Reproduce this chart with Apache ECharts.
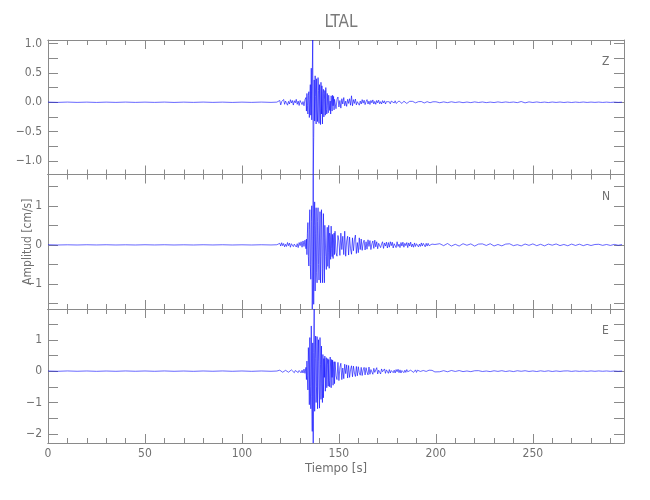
<!DOCTYPE html>
<html><head><meta charset="utf-8">
<script src="https://cdn.jsdelivr.net/npm/echarts@6/dist/echarts.min.js"></script>
<style>html,body{margin:0;padding:0;background:#fff}#c{width:650px;height:500px}</style>
</head><body><div id="c"></div>
<script>
// ---- time layout of the sampled values (seconds) ----
const T_MAX = 297;
const PRE_STEP = 5;                          // quiet part: t = 0,5,...,115
const ONSET_START = 118, ONSET_STEP = 0.5;   // 118 .. 132.5
const BURST_START = 133, BURST_STEP = 0.25;  // 133 .. 147.75
const CODA_START = 148, CODA_STEP = 0.5;     // 148 .. 199.5
const TAIL_START = 200, TAIL_STEP = 2;       // 200 .. 296

const xTicks = [0, 50, 100, 150, 200, 250];
const panelNames = ['Z', 'N', 'E'];

// ---- Z component ----
const zPre = [0.002,-0.002,0.003,-0.002,0.002,-0.003,0.002,-0.002,0.003,-0.002,0.002,-0.002,0.003,-0.003,0.002,-0.002,0.003,-0.002,0.002,-0.003,0.002,-0.002,0.003,-0.002];
const zOnset = [
 0.002,-0.003,0.004,0.03,-0.045,0.012,-0.02,0.048,-0.035,0.02,
 0.038,-0.05,0.015,-0.03,0.044,-0.012,0.03,-0.048,0.026,-0.01,
 0.05,-0.035,0.02,-0.055,0.03,0.058,-0.04,0.012,-0.06,0.045];
const zBurst = [
 0.08,-0.15,0.15,-0.05,-0.2,0.12,0.18,-0.26,0.05,0.3,-0.22,0.58,
 -0.3,0.45,1.06,-1.23,-0.6,0.38,-0.32,0.45,0.1,-0.37,0.4,-0.15,
 -0.33,0.42,0.2,-0.36,0.3,-0.1,-0.38,0.34,-0.2,0.28,-0.37,0.15,
 0.22,-0.25,0.05,0.2,-0.22,0.25,-0.12,-0.2,0.15,-0.05,-0.18,0.12,
 0.15,-0.14,0.02,-0.2,0.11,0.08,-0.15,0.12,-0.06,0.1,-0.13,0.05];
const zCoda = [
 0.07,-0.11,0.05,0.09,-0.08,0.03,-0.1,0.06,-0.03,0.08,
 -0.06,0.02,-0.07,0.05,-0.02,0.06,-0.05,0.11,-0.06,0.045,
 -0.02,0.055,-0.045,0.01,0.04,-0.05,0.02,-0.03,0.045,-0.015,
 0.035,-0.04,0.01,0.045,-0.03,0.02,-0.038,0.03,-0.01,0.04,
 -0.03,0.015,-0.035,0.03,-0.01,0.035,-0.025,0.01,-0.03,0.028,
 -0.012,0.025,-0.03,0.01,0.028,-0.022,0.008,-0.027,0.02,-0.01,
 0.02,-0.012,0.025,-0.02,0.006,-0.018,0.022,-0.01,0.015,-0.02,
 0.01,0.018,-0.015,0.005,-0.02,0.014,-0.008,0.016,-0.012,0.004,
 0.015,-0.014,0.008,-0.01,0.016,-0.006,0.01,-0.014,0.004,0.012,
 -0.01,0.008,-0.012,0.01,-0.004,0.01,-0.01,0.006,-0.008,0.01,
 -0.006,0.008,-0.01,0.004];
const zTail = [
 0.008,-0.008,0.006,-0.006,0.008,-0.004,0.006,-0.007,0.004,-0.006,
 0.006,-0.004,0.005,-0.006,0.003,-0.005,0.006,-0.004,0.005,-0.003,
 0.004,-0.006,0.012,-0.01,0.006,-0.004,0.005,-0.004,0.003,-0.005,
 0.004,-0.003,0.004,-0.004,0.003,-0.004,0.003,-0.003,0.004,-0.003,
 0.003,-0.002,0.003,-0.003,0.002,-0.003,0.002,-0.002,0.002];

// ---- N component ----
const nPre = [0.003,-0.003,0.002,-0.003,0.003,-0.002,0.003,-0.003,0.002,-0.003,0.003,-0.002,0.003,-0.003,0.002,-0.003,0.003,-0.002,0.003,-0.003,0.002,-0.003,0.003,-0.002];
const nOnset = [
 0.003,-0.004,0.002,0.04,-0.03,0.055,-0.02,0.035,-0.05,0.015,
 -0.04,0.06,-0.02,0.045,-0.06,0.03,0.05,-0.045,0.02,0.065,
 -0.055,0.03,-0.07,0.06,-0.02,0.08,-0.06,0.1,-0.04,0.12];
const nBurst = [
 -0.1,0.15,-0.25,0.3,0.57,-0.3,-0.54,0.4,0.9,-0.5,-0.88,0.6,
 1.0,-1.64,-0.9,1.80,-1.52,0.5,1.1,-1.18,0.3,0.95,-0.7,-0.97,
 0.6,0.95,-0.5,-0.9,0.2,0.85,-0.97,-0.3,0.9,0.4,-0.97,-0.6,
 0.8,0.2,-0.97,0.5,0.52,-0.3,-0.63,0.1,0.45,-0.55,-0.2,0.5,
 -0.6,0.3,0.2,-0.37,0.48,-0.1,-0.3,0.27,-0.35,0.15,0.3,-0.25];
const nCoda = [
 0.35,-0.2,-0.29,0.24,0.1,-0.27,0.3,-0.12,0.22,-0.25,
 0.35,-0.29,0.1,0.22,-0.26,0.2,-0.1,-0.24,0.18,-0.15,
 0.13,0.25,-0.22,0.06,-0.2,0.18,-0.12,0.15,-0.14,0.05,
 0.12,-0.13,0.08,-0.11,0.13,-0.04,0.11,-0.12,0.03,0.1,
 -0.09,0.12,-0.05,0.08,-0.1,0.04,0.09,-0.07,0.02,0.08,
 -0.09,0.05,-0.03,0.07,-0.08,0.06,-0.06,0.08,-0.02,0.07,
 -0.08,0.03,0.06,-0.07,0.08,-0.04,0.02,-0.07,0.06,-0.03,
 0.07,-0.06,0.04,-0.02,0.06,-0.07,0.05,-0.03,0.07,-0.05,
 0.02,-0.06,0.05,-0.04,0.03,0.05,-0.05,0.02,-0.04,0.05,
 -0.03,0.04,0.01,-0.05,0.04,-0.03,0.04,-0.02,0.03,-0.04,
 0.02,0.035,-0.03,0.01];
const nTail = [
 -0.04,0.03,-0.02,0.035,-0.03,0.015,-0.03,0.03,-0.01,0.025,
 -0.03,0.02,0.025,-0.015,0.03,-0.028,0.01,-0.025,0.02,0.028,
 -0.02,0.005,-0.026,0.022,-0.012,0.025,-0.02,0.015,-0.025,0.02,
 -0.008,0.024,-0.018,0.01,-0.022,0.02,-0.015,0.018,-0.02,0.012,
 -0.016,0.01,0.015,-0.012,0.01,-0.014,0.012,-0.01,0.008];

// ---- E component ----
const ePre = [0.004,-0.005,0.006,-0.004,0.005,-0.006,0.004,-0.005,0.006,-0.004,0.005,-0.005,0.006,-0.005,0.004,-0.006,0.005,-0.004,0.006,-0.005,0.005,-0.006,0.005,-0.005];
const eOnset = [
 0.003,-0.004,0.002,0.03,-0.02,0.04,-0.035,0.01,-0.04,0.025,
 -0.015,0.045,-0.035,0.02,-0.045,0.04,-0.01,0.045,-0.05,0.02,
 -0.03,0.055,-0.045,0.02,0.06,-0.055,0.03,-0.06,0.065,-0.07];
const eBurst = [
 0.12,-0.27,0.32,-0.15,-0.6,0.75,0.2,-1.07,1.07,-0.5,-1.2,1.44,
 -0.8,-1.92,0.9,-2.29,0.6,1.98,-1.28,0.4,1.12,-1.0,-0.5,1.1,
 -1.2,0.3,1.0,-0.6,-1.18,1.07,0.2,-0.9,0.8,-0.4,-1.0,0.53,
 -0.85,0.4,-0.2,0.48,-0.64,0.1,0.43,-0.53,0.2,0.4,-0.48,0.37,
 -0.3,-0.5,0.45,0.1,-0.53,0.37,-0.2,0.35,-0.45,0.1,0.3,-0.4];
const eCoda = [
 0.3,-0.15,-0.27,0.28,-0.3,0.12,0.25,-0.27,0.1,-0.24,
 0.22,-0.08,0.2,-0.22,0.18,-0.2,0.05,0.17,-0.18,0.16,
 -0.06,-0.17,0.15,-0.15,0.14,-0.05,-0.13,0.12,-0.14,0.04,
 0.12,-0.12,0.11,-0.03,-0.12,0.13,-0.1,0.05,0.11,-0.1,
 0.09,-0.04,-0.1,0.11,-0.09,0.03,0.08,-0.09,0.07,-0.02,
 -0.08,0.07,-0.07,0.04,0.06,-0.07,0.05,-0.06,0.02,0.07,
 -0.05,0.03,-0.06,0.05,-0.02,0.06,-0.05,0.04,-0.06,0.02,
 0.05,-0.05,0.03,-0.04,0.05,-0.02,0.04,-0.05,0.03,-0.03,
 0.04,-0.04,0.01,0.04,-0.04,0.03,-0.03,0.035,-0.01,0.03,
 -0.035,0.02,-0.03,0.03,-0.01,0.03,-0.025,0.03,-0.02,0.01,
 0.025,-0.03,0.02,-0.025];
const eTail = [
 0.02,-0.02,0.015,-0.02,0.02,-0.01,0.018,-0.015,0.005,-0.016,
 0.012,0.015,-0.012,0.004,-0.015,0.012,-0.008,0.014,-0.012,0.008,
 -0.014,0.012,-0.005,0.013,-0.01,0.006,-0.012,0.01,-0.008,0.01,
 -0.011,0.006,-0.009,0.005,0.008,-0.008,0.006,-0.007,0.005,-0.006,
 0.007,-0.005,0.006,-0.004,0.005,-0.006,0.004,-0.005,0.004];

// ---- axis ranges and tick steps ----
const yMin = [-1.23, -1.64, -2.29];
const yMax = [1.06, 1.80, 1.98];
const yTickStep = [0.25, 0.5, 0.5];
const yLabelStep = [0.5, 1, 1];
const yDecimals = [1, 0, 0];

function buildTrace(pre, onset, burst, coda, tail) {
  const pts = [];
  pre.forEach((v, i) => pts.push([i * PRE_STEP, v]));
  onset.forEach((v, i) => pts.push([ONSET_START + i * ONSET_STEP, v]));
  burst.forEach((v, i) => pts.push([BURST_START + i * BURST_STEP, v]));
  coda.forEach((v, i) => pts.push([CODA_START + i * CODA_STEP, v]));
  tail.forEach((v, i) => pts.push([TAIL_START + i * TAIL_STEP, v]));
  return pts;
}
const traces = [
  buildTrace(zPre, zOnset, zBurst, zCoda, zTail),
  buildTrace(nPre, nOnset, nBurst, nCoda, nTail),
  buildTrace(ePre, eOnset, eBurst, eCoda, eTail)
];

const FONT = "'Liberation Sans Narrow', 'DejaVu Sans Condensed', 'Roboto Condensed', 'Liberation Sans', sans-serif";
const AXC = '#8a8a8a';
const TXC = '#707070';

const gridTops = [40, 174.5, 309];
const gridH = [134.5, 134.5, 134];

const grids = [], xAxes = [], yAxes = [], series = [];
for (let p = 0; p < 3; p++) {
  grids.push({ left: 48, right: 26, top: gridTops[p], height: gridH[p], containLabel: false });
  const isBottom = p === 2;
  const mkX = (pos, step, len, withLabels) => ({
    type: 'value', gridIndex: p, position: pos, min: 0, max: T_MAX,
    interval: step,
    axisLine: { show: true, onZero: false, lineStyle: { color: AXC, width: 1 } },
    axisTick: { show: true, inside: true, length: len, lineStyle: { color: AXC, width: 1 } },
    axisLabel: withLabels ? {
      show: true, margin: 5, color: TXC, fontSize: 12, fontFamily: FONT,
      showMaxLabel: false,
      formatter: v => (xTicks.indexOf(v) >= 0 ? String(v) : '')
    } : { show: false },
    splitLine: { show: false },
    name: withLabels ? 'Tiempo [s]' : '',
    nameLocation: 'middle', nameGap: 19, nameMoveOverlap: false,
    nameTextStyle: { color: TXC, fontSize: 13, fontFamily: FONT }
  });
  const base = xAxes.length;
  xAxes.push(mkX('bottom', 50, 9, isBottom));
  xAxes.push(mkX('bottom', 10, 5, false));
  xAxes.push(mkX('top', 50, 9, false));
  xAxes.push(mkX('top', 10, 5, false));

  const mkY = (pos, withLabels) => ({
    type: 'value', gridIndex: p, position: pos, min: yMin[p], max: yMax[p],
    minInterval: yTickStep[p], maxInterval: yTickStep[p], splitNumber: 10,
    axisLine: { show: true, onZero: false, lineStyle: { color: AXC, width: 1 } },
    axisTick: { show: true, inside: true, length: 10, lineStyle: { color: AXC, width: 1 } },
    axisLabel: withLabels ? {
      show: true, margin: 6, color: TXC, fontSize: 12, fontFamily: FONT,
      showMinLabel: false, showMaxLabel: false,
      formatter: v => {
        const r = v / yLabelStep[p];
        if (Math.abs(r - Math.round(r)) > 1e-6) return '';
        const s = Math.abs(v).toFixed(yDecimals[p]);
        return (v < -1e-9 ? '\u2212' : '') + s;
      }
    } : { show: false },
    splitLine: { show: false },
    name: (withLabels && p === 1) ? 'Amplitud [cm/s]' : '',
    nameLocation: 'middle', nameGap: 14, nameMoveOverlap: false,
    nameTextStyle: { color: TXC, fontSize: 12, fontFamily: FONT }
  });
  const ybase = yAxes.length;
  yAxes.push(mkY('left', true));
  yAxes.push(mkY('right', false));

  series.push({
    type: 'line', name: panelNames[p], xAxisIndex: base, yAxisIndex: ybase,
    data: traces[p], showSymbol: false, symbol: 'none', smooth: false,
    lineStyle: { color: '#0000ff', width: 0.6 }, silent: true
  });
}

const chart = echarts.init(document.getElementById('c'), null, { renderer: 'canvas' });
chart.setOption({
  animation: false,
  backgroundColor: '#ffffff',
  title: {
    text: 'LTAL', left: 336, top: 9, textAlign: 'center',
    textStyle: { color: '#7a7a7a', fontSize: 17, fontWeight: 'normal', fontFamily: FONT }
  },
  grid: grids, xAxis: xAxes, yAxis: yAxes, series: series,
  graphic: panelNames.map((n, p) => ({
    type: 'text', left: 602, top: gridTops[p] + 16,
    style: { text: n, fill: TXC, fontSize: 12, fontFamily: FONT }
  }))
});
</script></body></html>
